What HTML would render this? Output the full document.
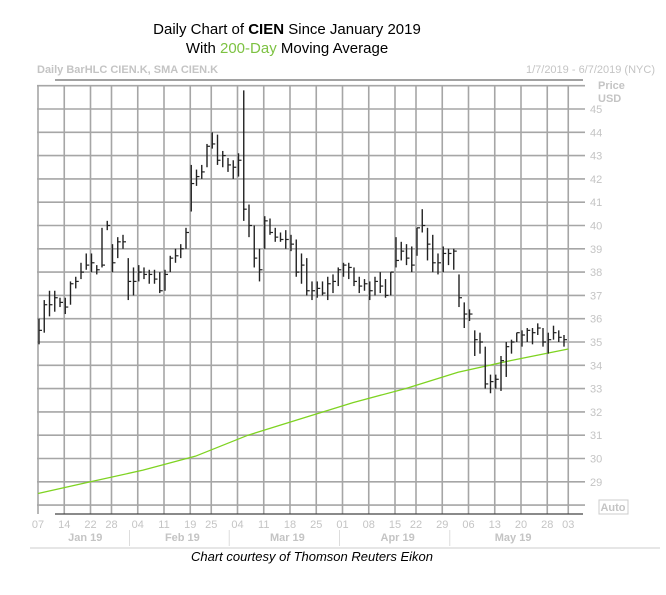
<!DOCTYPE html>
<html><head><meta charset="utf-8"><style>
body{margin:0;background:#fff;width:666px;height:590px;overflow:hidden;font-family:"Liberation Sans",sans-serif}
</style></head><body>
<svg id="c" width="666" height="590" xmlns="http://www.w3.org/2000/svg">
<text x="287" y="34" text-anchor="middle" font-size="15">Daily Chart of <tspan font-weight="bold">CIEN</tspan> Since January 2019</text>
<text x="287" y="53" text-anchor="middle" font-size="15">With <tspan fill="#7dc242">200-Day</tspan> Moving Average</text>
<text x="37" y="73" font-size="11" font-weight="bold" fill="#c4c4c4">Daily BarHLC CIEN.K, SMA CIEN.K</text>
<text x="655" y="73" text-anchor="end" font-size="11" fill="#c4c4c4">1/7/2019 - 6/7/2019 (NYC)</text>
<text x="598" y="89" font-size="11" font-weight="bold" fill="#c4c4c4">Price</text>
<text x="598" y="102" font-size="11" font-weight="bold" fill="#c4c4c4">USD</text>
<g id="grid"></g>
<g id="sma"></g>
<g id="bars"></g>
<line x1="55" y1="80" x2="583" y2="80" stroke="#444" stroke-width="1"/>
<line x1="55" y1="514" x2="583" y2="514" stroke="#444" stroke-width="1.2"/>
<rect x="599" y="500" width="29" height="14" fill="none" stroke="#ccc"/>
<text x="613" y="511" text-anchor="middle" font-size="11" font-weight="bold" fill="#c4c4c4">Auto</text>
<line x1="30" y1="548" x2="660" y2="548" stroke="#ddd" stroke-width="1.5"/>
<g id="months"></g>
<text x="312" y="561" text-anchor="middle" font-size="13" font-style="italic">Chart courtesy of Thomson Reuters Eikon</text>
</svg>
<script>
const highs=[36.0,36.8,37.2,37.2,36.9,36.9,37.6,37.8,38.4,38.8,38.8,38.3,39.9,40.2,39.2,39.5,39.6,38.6,
38.2,38.3,38.2,38.1,38.1,38.0,38.1,38.7,39.0,39.2,39.9,42.6,42.4,42.6,43.5,44.0,43.9,43.2,42.9,
42.8,43.1,45.8,40.9,40.0,39.0,40.4,40.3,39.9,39.7,39.8,39.6,39.4,38.8,38.6,37.6,37.6,37.6,37.8,37.9,38.2,
38.4,38.4,38.2,37.8,37.7,37.6,37.8,38.0,37.7,38.0,39.5,39.3,39.2,39.1,39.9,40.7,39.9,39.6,38.8,39.1,39.0,
39.0,37.9,36.7,36.4,35.5,35.4,34.8,33.6,33.6,34.4,35.0,35.1,35.4,35.5,35.6,35.6,35.8,35.6,35.4,35.7,35.5,35.3];
const lows=[34.9,35.4,36.1,36.3,36.5,36.2,36.6,37.3,37.7,38.1,38.0,37.9,38.2,39.8,38.0,38.6,39.0,36.8,
37.0,37.6,37.7,37.5,37.5,37.1,37.2,38.0,38.4,38.6,39.0,40.6,41.7,42.0,42.5,43.3,42.6,42.5,42.3,
42.0,42.1,40.2,39.5,38.2,37.6,39.0,39.6,39.3,39.3,39.0,38.9,37.8,37.5,37.0,36.8,36.9,37.0,36.8,37.1,37.4,
37.8,37.7,37.4,37.1,37.2,36.8,37.0,37.1,36.9,37.0,38.2,38.5,38.3,38.0,38.7,39.7,38.5,38.0,37.9,38.0,38.3,
38.1,36.5,35.6,35.9,34.4,34.5,33.0,32.8,33.0,32.9,33.5,34.5,35.0,34.8,35.0,34.9,35.3,34.8,34.5,35.1,35.0,34.8];
const closes=[35.5,36.6,36.6,36.9,36.7,36.5,37.5,37.6,38.0,38.3,38.4,38.1,38.3,40.0,38.4,39.3,39.3,37.6,
37.6,38.0,37.9,37.9,37.7,37.2,37.9,38.6,38.7,39.0,39.7,41.8,42.1,42.3,43.4,43.5,42.8,43.0,42.6,
42.5,42.8,40.7,40.0,38.6,38.1,40.2,39.7,39.5,39.4,39.4,39.2,38.0,38.3,37.2,37.2,37.3,37.1,37.5,37.6,38.1,
38.3,38.2,37.6,37.4,37.5,37.2,37.6,37.4,37.0,38.0,38.5,38.9,38.6,38.3,39.9,40.0,39.2,38.4,38.4,38.8,38.8,
38.9,36.9,36.2,36.2,35.1,35.0,33.2,33.3,33.4,34.2,34.8,35.0,35.4,35.3,35.5,35.4,35.6,35.0,35.1,35.4,35.2,35.1];
const smaIdx=[0,10,20,30,40,50,60,70,80,90,101];
const smaVals=[28.5,29.0,29.5,30.1,31.0,31.7,32.4,33.0,33.7,34.2,34.7];
const tickIdx=[0,5,10,14,19,24,29,33,38,43,48,53,58,63,68,72,77,82,87,92,97,101];
const tickLabels=['07','14','22','28','04','11','19','25','04','11','18','25','01','08','15','22','29','06','13','20','28','03'];
const priceTicks=[45,44,43,42,41,40,39,38,37,36,35,34,33,32,31,30,29];
const months=['Jan 19','Feb 19','Mar 19','Apr 19','May 19'];
const monthStart=[0,18,37,58,79];
const monthEnd=[18,37,58,79,102];
const NS='http://www.w3.org/2000/svg';
const X=i=>38+i*5.25;
const Y=v=>109+(45-v)*23.3;
function mk(tag,attrs,parent){const e=document.createElementNS(NS,tag);for(const k in attrs)e.setAttribute(k,attrs[k]);parent.appendChild(e);return e;}
const grid=document.getElementById('grid');
for(let v=46;v>=28;v--){
  const l=mk('line',{x1:37,x2:585,y1:Y(v),y2:Y(v),stroke:'#a6a6a6','stroke-width':1.6},grid);
  
  
}
priceTicks.forEach(v=>{
  const t=mk('text',{x:590,y:Y(v)+4,'font-size':11,fill:'#c4c4c4'},grid);t.textContent=v;
  
  
});
tickIdx.forEach((d,k)=>{
  const x=X(d);
  const l=mk('line',{x1:x,x2:x,y1:86,y2:514,stroke:'#a6a6a6','stroke-width':1.6},grid);
  
  
  const t=mk('text',{x:x,y:528,'text-anchor':'middle','font-size':11,fill:'#c4c4c4'},grid);t.textContent=tickLabels[k];
  
  
});
const mg=document.getElementById('months');
months.forEach((m,k)=>{
  const t=mk('text',{x:(X(monthStart[k])+Math.min(X(monthEnd[k]),578))/2,y:541,'text-anchor':'middle','font-size':11,'font-weight':'bold',fill:'#c4c4c4'},mg);t.textContent=m;
  
  
  if(k>0){const s=mk('line',{x1:X(monthStart[k])-3,x2:X(monthStart[k])-3,y1:530,y2:546,stroke:'#ddd'},mg);
  
  }
});
const sp=smaIdx.map((d,k)=>X(d)+','+Y(smaVals[k])).join(' ');
const sl=mk('polyline',{points:sp,fill:'none',stroke:'#7ed321','stroke-width':1.3},document.getElementById('sma'));


const bg=document.getElementById('bars');
highs.forEach((h,i)=>{
  const x=X(i)+1;
  const g=mk('g',{},bg);
  
  
  mk('line',{x1:x,x2:x,y1:Y(h),y2:Y(lows[i]),stroke:'#222','stroke-width':1.4},g);
  mk('line',{x1:x,x2:x+3,y1:Y(closes[i]),y2:Y(closes[i]),stroke:'#222','stroke-width':1.2},g);
});
</script>
</body></html>
